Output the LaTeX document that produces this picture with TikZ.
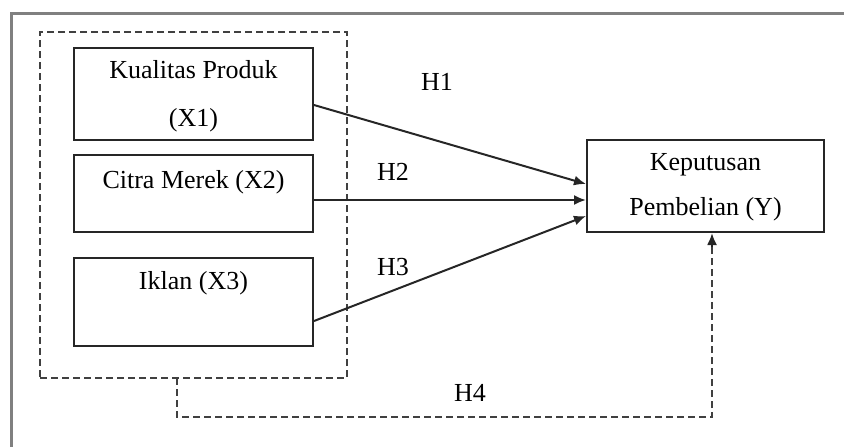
\documentclass[tikz,border=0pt]{standalone}
\usepackage{fontspec}
\setmainfont{Liberation Serif}
\usepackage{tikz}
\usetikzlibrary{arrows.meta,calc,positioning}

\tikzset{
  box/.style={draw=black!85, line width=1pt, minimum width=119.5pt, inner sep=0pt},
  lbl/.style={font=\fontsize{13}{24}\selectfont, inner sep=0pt, align=center},
  dline/.style={draw=black!75, line width=1pt, dash pattern=on 3.5pt off 2pt},
  arr/.style={draw=black!85, line width=1pt, -{Latex[length=6pt,width=5pt]}},
}

\begin{document}
\begin{tikzpicture}[x=0.5pt,y=-0.5pt]
\clip (0,0) rectangle (844,446);
% outer frame (cut off at right and bottom)
\draw[black!50, line width=1.5pt] (11,460) -- (11,13) -- (860,13);

% group of independent variables
\node[dline, minimum width=153.5pt, minimum height=173pt] (grp) at (193.5,205) {};

\node[box, minimum height=46pt] (x1) at (193.5,94) {};
\node[box, minimum height=38.5pt] (x2) at (193.5,193.5) {};
\node[box, minimum height=44pt] (x3) at (193.5,302) {};
\node[box, minimum width=118.5pt, minimum height=46pt] (y) at (705.5,186) {};

\node[lbl] (x1t) at (193.5,96) {Kualitas Produk\\(X1)};
\node[lbl] (x2t) at (193.5,182) {Citra Merek (X2)};
\node[lbl] (x3t) at (193.5,283) {Iklan (X3)};
\node[lbl, font=\fontsize{13}{22.5}\selectfont] (yt) at (705.5,187.5) {Keputusan\\Pembelian (Y)};

% hypotheses
\node[lbl] (h1) at (437,82) {H1};
\node[lbl] (h2) at (393,172) {H2};
\node[lbl] (h3) at (393,267) {H3};
\node[lbl] (h4) at (470,393) {H4};

\draw[arr] ($(x1.east)+(0,11)$) -- ($(y.west)+(0,-2)$);
\draw[arr] ($(x2.east)+(0,6.5)$) -- ($(y.west)+(0,14)$);
\draw[arr] ($(x3.east)+(0,19)$) -- ($(y.west)+(0,30)$);

\coordinate (h4a) at (177,378);
\coordinate (h4b) at (712,417);
\draw[dline] (h4a) |- (h4b) -- ($(h4b |- y.south)+(0,12)$);
\draw[arr] ($(h4b |- y.south)+(0,14)$) -- (h4b |- y.south);
\end{tikzpicture}
\end{document}
